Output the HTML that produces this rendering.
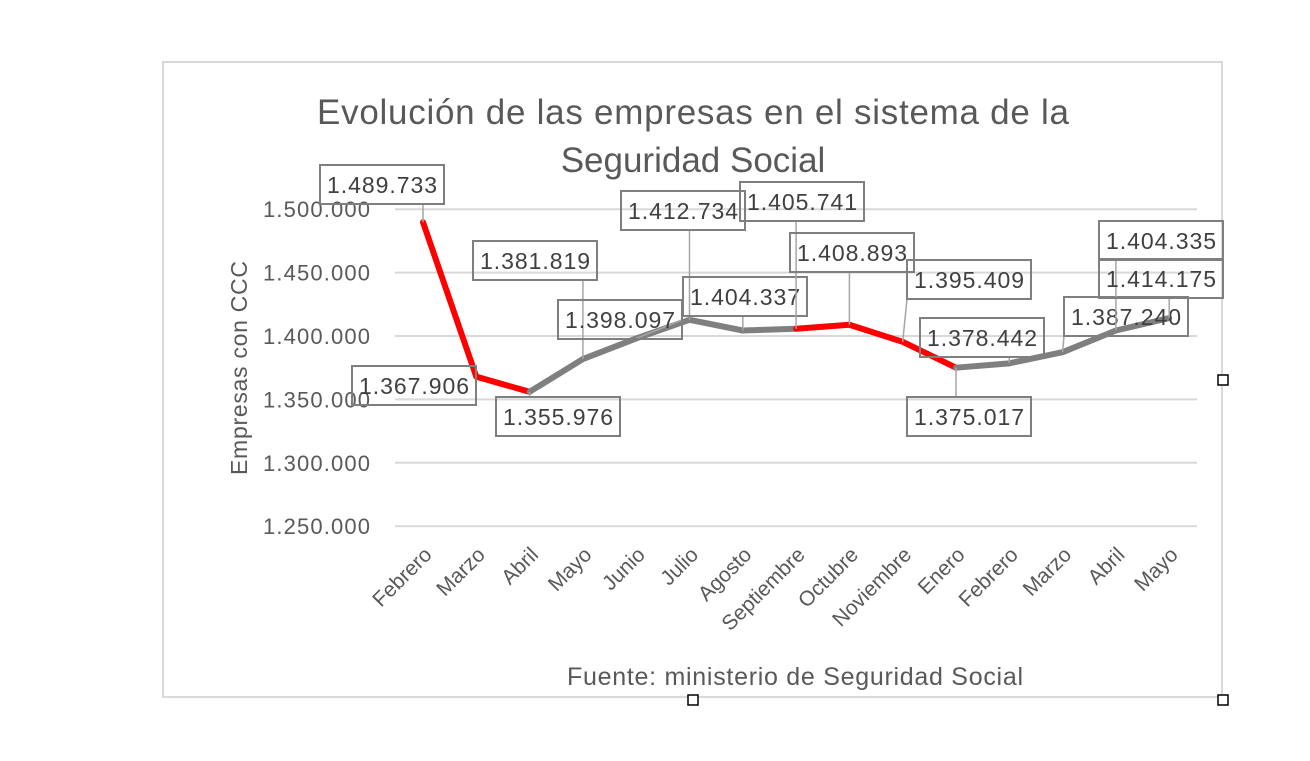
<!DOCTYPE html>
<html><head><meta charset="utf-8"><style>
body{margin:0;background:#fff;width:1310px;height:756px;overflow:hidden;font-family:"Liberation Sans",sans-serif}
svg text{font-family:"Liberation Sans",sans-serif}
</style></head><body>
<svg width="1310" height="756">
<rect x="163" y="62" width="1059" height="635" fill="#fff" stroke="#d9d9d9" stroke-width="2"/>
<text x="693" y="124" font-size="35" fill="#595959" text-anchor="middle" textLength="752">Evolución de las empresas en el sistema de la</text>
<text x="693" y="172" font-size="35" fill="#595959" text-anchor="middle">Seguridad Social</text>
<text transform="translate(247,368) rotate(-90)" font-size="23" fill="#595959" text-anchor="middle" textLength="214">Empresas con CCC</text>
<text x="795" y="685" font-size="25" fill="#595959" text-anchor="middle" textLength="456">Fuente: ministerio de Seguridad Social</text>
<g id="grid"></g><g id="xl"></g><g id="lines"></g><g id="labels"></g>
<rect x="1218" y="375" width="10" height="10" fill="#fff" stroke="#000" stroke-width="1.5"/>
<rect x="688" y="695" width="10" height="10" fill="#fff" stroke="#000" stroke-width="1.5"/>
<rect x="1218" y="695" width="10" height="10" fill="#fff" stroke="#000" stroke-width="1.5"/>
</svg>
<script>
const categories=["Febrero","Marzo","Abril","Mayo","Junio","Julio","Agosto","Septiembre","Octubre","Noviembre","Enero","Febrero","Marzo","Abril","Mayo"];
const values=[1489733,1367906,1355976,1381819,1398097,1412734,1404337,1405741,1408893,1395409,1375017,1378442,1387240,1404335,1414175];
const redSegments=[0,1,7,8,9];
const yTicks=[1250000,1300000,1350000,1400000,1450000,1500000];
const yTickLabels=["1.250.000","1.300.000","1.350.000","1.400.000","1.450.000","1.500.000"];
const boxes=[[320,165],[352,366],[496,397],[473,241],[558,300],[621,191],[683,277],[740,182],[790,233],[907,260],[907,397],[920,318],[1064,297],[1099,221],[1099,259]];
const NS="http://www.w3.org/2000/svg";
const y=v=>336-(v-1400000)/50000*63.4;
const x=i=>423+i*53.3;
function mk(t,a,p){const e=document.createElementNS(NS,t);for(const k in a)e.setAttribute(k,a[k]);p.appendChild(e);return e;}
const fmt=v=>String(v).replace(/\B(?=(\d{3})+(?!\d))/g,".");
const G=document.getElementById('grid');
yTicks.forEach((t,i)=>{
 const l=mk('line',{x1:395,x2:1197,y1:y(t),y2:y(t),stroke:'#d9d9d9','stroke-width':2},G);
 
 
 const tx=mk('text',{x:370,y:y(t)+8,'font-size':22,fill:'#595959','text-anchor':'end',textLength:107},G);
 tx.textContent=yTickLabels[i];
 
 
});
const XL=document.getElementById('xl');
categories.forEach((c,i)=>{
 const tx=mk('text',{transform:`translate(${x(i)+10},${556}) rotate(-45)`,'font-size':21,fill:'#595959','text-anchor':'end'},XL);
 tx.textContent=c;
 
 
});
const L=document.getElementById('lines');
for(let i=0;i<values.length-1;i++){
 const red=redSegments.includes(i);
 const s=mk('line',{x1:x(i),y1:y(values[i]),x2:x(i+1),y2:y(values[i+1]),stroke:red?'#ff0000':'#7f7f7f','stroke-width':6,'stroke-linecap':'round'},L);
 
 
}
const LB=document.getElementById('labels');
values.forEach((v,i)=>{
 const [bx,by]=boxes[i];
 const cx=bx+62,cy=by+20;
 const px=x(i),py=y(v);
 let ex=Math.max(bx,Math.min(bx+124,px)),ey=py<by?by:(py>by+39?by+39:cy);
 if(py>=by&&py<=by+39)ex=px<bx?bx:bx+124;
 mk('line',{x1:ex,y1:ey,x2:px,y2:py,stroke:'#a6a6a6','stroke-width':1.5},LB);
 const r=mk('rect',{x:bx,y:by,width:124,height:39,fill:'none',stroke:'#7f7f7f','stroke-width':2},LB);
 
 
 const t=mk('text',{x:cx,y:cy+8,'font-size':23,fill:'#404040','text-anchor':'middle',textLength:110},LB);
 t.textContent=fmt(v);
 
 
});
</script>
</body></html>
